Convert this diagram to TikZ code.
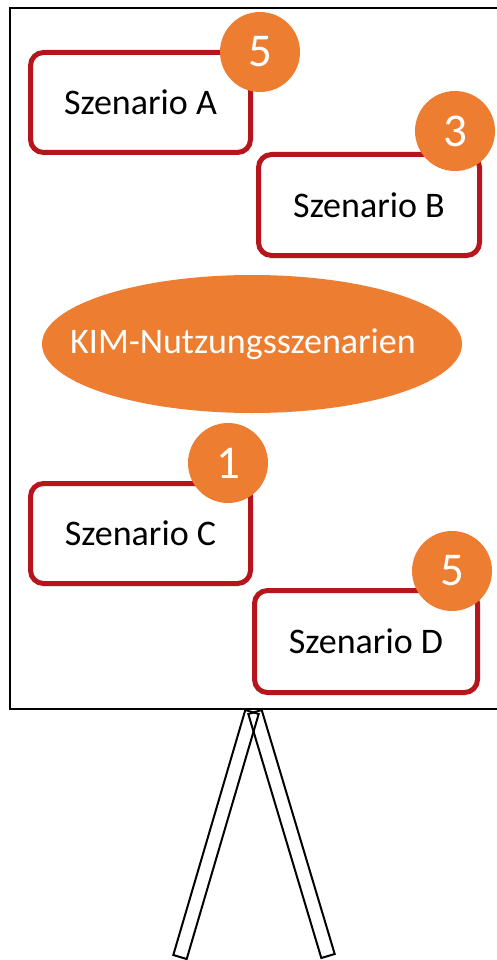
\documentclass[tikz,border=0pt]{standalone}
\usepackage{fontspec}
\setmainfont{Carlito}
\usetikzlibrary{shapes.geometric}
\definecolor{boxred}{HTML}{B5151B}
\definecolor{dotorange}{HTML}{ED7D31}
\tikzset{
  scenario/.style={draw=boxred, line width=5pt, rounded corners=13pt, fill=white,
    inner sep=0pt, font=\fontsize{36}{43}\selectfont},
  badge/.style={circle, fill=dotorange, minimum size=80pt, inner sep=0pt,
    text=white, font=\fontsize{47}{56}\selectfont},
  topic/.style={ellipse, fill=dotorange, minimum width=420pt, minimum height=138pt, inner sep=0pt},
  topictext/.style={text=white, inner sep=0pt, font=\fontsize{36}{43}\selectfont},
  legline/.style={draw=black, line width=2pt, line join=miter},
  board/.style={draw=black, line width=2pt, fill=white}
}
\begin{document}
\begin{tikzpicture}[x=1pt, y=-1pt]
\useasboundingbox (0,0) rectangle (496,960);

% easel legs
\draw[legline] (245.3,710) -- (258.7,714) -- (186.7,959) -- (173.3,955) -- cycle;
\draw[legline] (248.3,714) -- (261.7,710) -- (334.7,954) -- (321.3,958) -- cycle;

% board
\draw[board] (10,8) rectangle (520,709);

% scenario boxes
\node[scenario, minimum width=220pt, minimum height=100pt] (sa) at (140.5,102.5) {Szenario A};
\node[scenario, minimum width=221pt, minimum height=101pt] (sb) at (369,205) {Szenario B};
\node[scenario, minimum width=220pt, minimum height=100pt] (sc) at (140.5,533.5) {Szenario C};
\node[scenario, minimum width=223pt, minimum height=102pt] (sd) at (366,641.5) {Szenario D};

% central topic
\node[topic] (kim) at (252,344) {};
\node[topictext] (kimtext) at ([xshift=-9pt]kim.center) {KIM-Nutzungsszenarien};

% vote counts
\node[badge] (na) at (260,52) {5};
\node[badge] (nb) at (455,131) {3};
\node[badge] (nc) at (228,463) {1};
\node[badge] (nd) at (452,571) {5};
\end{tikzpicture}
\end{document}
